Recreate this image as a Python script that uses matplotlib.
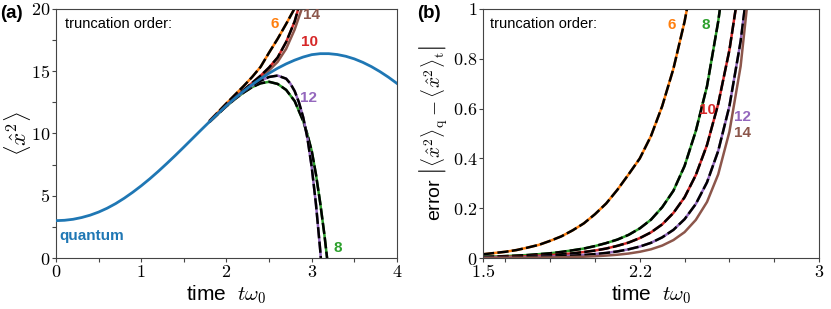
import matplotlib
matplotlib.use("Agg")
import matplotlib.pyplot as plt

plt.rcParams['font.family'] = ['Liberation Sans', 'DejaVu Sans']
plt.rcParams['mathtext.fontset'] = 'cm'

# panel (a): <x^2> vs time
t_q = [0.0, 0.1, 0.2, 0.3, 0.4, 0.5, 0.6, 0.7, 0.8, 0.9, 1.0,
       1.1, 1.2, 1.3, 1.4, 1.5, 1.6, 1.7, 1.8, 1.9, 2.0,
       2.1, 2.2, 2.3, 2.4, 2.5, 2.6, 2.7, 2.8, 2.9, 3.0,
       3.1, 3.2, 3.3, 3.4, 3.5, 3.6, 3.7, 3.8, 3.9, 4.0]
x2_q = [3.00, 3.03, 3.11, 3.25, 3.44, 3.69, 4.00, 4.37, 4.80, 5.28, 5.80,
        6.36, 6.96, 7.59, 8.24, 8.91, 9.59, 10.27, 10.94, 11.60, 12.24,
        12.84, 13.40, 13.92, 14.40, 14.84, 15.24, 15.59, 15.89, 16.14, 16.33,
        16.41, 16.41, 16.34, 16.20, 15.99, 15.71, 15.37, 14.97, 14.52, 14.02]

# truncated expansions (orders 6..14)
t6a = [1.8, 1.9, 2.0, 2.1, 2.2, 2.3, 2.4, 2.5, 2.6, 2.7, 2.8, 2.85]
x2_6 = [11.01, 11.71, 12.42, 13.11, 13.80, 14.53, 15.35, 16.50, 17.60, 18.80, 20.05, 20.7]
t10a = [1.8, 1.9, 2.0, 2.1, 2.2, 2.3, 2.4, 2.5, 2.6, 2.7, 2.8, 2.85, 2.9]
x2_10 = [10.95, 11.62, 12.27, 12.89, 13.48, 14.06, 14.64, 15.30, 16.10, 17.35, 19.00, 20.20, 21.6]
t14a = [1.8, 1.9, 2.0, 2.1, 2.2, 2.3, 2.4, 2.5, 2.6, 2.7, 2.8, 2.9, 2.95]
x2_14 = [10.94, 11.60, 12.25, 12.85, 13.42, 13.97, 14.50, 15.07, 15.75, 16.80, 18.35, 20.35, 21.6]
t12a = [1.8, 1.9, 2.0, 2.1, 2.2, 2.3, 2.4, 2.5, 2.6, 2.7, 2.75, 2.8, 2.85,
        2.9, 2.95, 3.0, 3.05, 3.1, 3.12]
x2_12 = [10.93, 11.59, 12.22, 12.81, 13.35, 13.84, 14.24, 14.54, 14.65, 14.40, 14.00, 13.40, 12.50,
         11.30, 9.60, 7.30, 4.30, 0.60, -1.2]
t8a = [1.8, 1.9, 2.0, 2.1, 2.2, 2.3, 2.4, 2.5, 2.6, 2.7, 2.8, 2.9,
       2.95, 3.0, 3.05, 3.1, 3.15, 3.2]
x2_8 = [10.92, 11.57, 12.19, 12.77, 13.28, 13.72, 14.03, 14.15, 13.98, 13.50, 12.60, 11.00,
        9.90, 8.60, 6.70, 4.40, 1.80, -1.2]

# panel (b): error |<x^2>_q - <x^2>_t|
t_b = [1.5, 1.55, 1.6, 1.65, 1.7, 1.75, 1.8, 1.85, 1.9, 1.95, 2.0, 2.05, 2.1,
       2.15, 2.2, 2.25, 2.3, 2.35, 2.4, 2.45, 2.5, 2.55, 2.6, 2.65, 2.7]
err6 = [0.015, 0.020, 0.025, 0.032, 0.042, 0.053, 0.069, 0.087, 0.111, 0.139, 0.176, 0.219, 0.274,
        0.336, 0.40, 0.49, 0.61, 0.76, 0.95, 1.19]
err8 = [0.0049, 0.006, 0.0077, 0.0098, 0.012, 0.0155, 0.019, 0.0245, 0.031, 0.038, 0.048, 0.060, 0.074,
        0.093, 0.119, 0.154, 0.204, 0.27, 0.37, 0.51, 0.69, 0.95, 1.28]
err10 = [0.0027, 0.0035, 0.0044, 0.0056, 0.0072, 0.0091, 0.0116, 0.0147, 0.0187, 0.024, 0.030, 0.038, 0.049,
         0.062, 0.080, 0.103, 0.135, 0.181, 0.244, 0.333, 0.454, 0.619, 0.835, 1.13]
err12 = [0.0012, 0.0015, 0.002, 0.0026, 0.0033, 0.0043, 0.0056, 0.0072, 0.0094, 0.0122, 0.0158, 0.0204, 0.0265,
         0.035, 0.046, 0.061, 0.083, 0.113, 0.156, 0.217, 0.304, 0.43, 0.61, 0.87, 1.23]
err14 = [0.0004, 0.0005, 0.0007, 0.0009, 0.0012, 0.0016, 0.0021, 0.0029, 0.0039, 0.0052, 0.0071, 0.0097, 0.0132,
         0.018, 0.025, 0.035, 0.050, 0.072, 0.104, 0.153, 0.225, 0.336, 0.507, 0.77, 1.19]

C = {'q': '#1f77b4', 6: '#ff7f0e', 8: '#2ca02c', 10: '#d62728', 12: '#9467bd', 14: '#8c564b'}
LW = 1.8
DASH = (4.5, 1.3)
SPINE = '#444444'


def dashed(ax, x, y, c):
    ax.plot(x, y, color=c, lw=LW, solid_capstyle='butt')
    ax.plot(x, y, color='k', lw=LW, dashes=DASH)


def style(ax):
    for s in ax.spines.values():
        s.set_color(SPINE)
        s.set_linewidth(0.8)
    ax.tick_params(which='both', direction='out', length=3, width=0.8, color=SPINE,
                   labelsize=13, pad=1)


fig = plt.figure(figsize=(8.31, 3.09), dpi=100)
ax1 = fig.add_axes([0.0674, 0.165, 0.4103, 0.806])
ax2 = fig.add_axes([0.5812, 0.165, 0.4044, 0.806])

# ---- (a)
dashed(ax1, t8a, x2_8, C[8])
dashed(ax1, t12a, x2_12, C[12])
dashed(ax1, t6a, x2_6, C[6])
ax1.plot(t14a, x2_14, color=C[14], lw=LW)
dashed(ax1, t10a, x2_10, C[10])
ax1.plot(t_q, x2_q, color=C['q'], lw=LW + 0.2, zorder=5)

ax1.set_xlim(0, 4)
ax1.set_ylim(0, 20)
ax1.set_xticks([0, 1, 2, 3, 4])
ax1.set_xticklabels(['$0$', '$1$', '$2$', '$3$', '$4$'])
ax1.set_xticks([0.5, 1.5, 2.5, 3.5], minor=True)
ax1.set_yticks([0, 5, 10, 15, 20])
ax1.set_yticklabels(['$0$', '$5$', '$10$', '$15$', '$20$'])
ax1.set_yticks([2.5, 7.5, 12.5, 17.5], minor=True)
style(ax1)
ax1.set_xlabel(r'time  $t\omega_0$', fontsize=15, labelpad=2)
ax1.set_ylabel(r'$\langle \hat{x}^2 \rangle$', fontsize=16.5)
ax1.yaxis.set_label_coords(-0.068, 0.5)

ax1.text(0.027, 0.94, 'truncation order:', transform=ax1.transAxes, fontsize=10.5, va='center')
ax1.text(0.01, 0.09, 'quantum', transform=ax1.transAxes, fontsize=11, weight='bold',
         color=C['q'], va='center')
ax1.text(2.57, 18.8, '6', color=C[6], fontsize=11, weight='bold', ha='center', va='center')
ax1.text(3.0, 19.5, '14', color=C[14], fontsize=11, weight='bold', ha='center', va='center')
ax1.text(2.97, 17.35, '10', color=C[10], fontsize=11, weight='bold', ha='center', va='center')
ax1.text(2.96, 12.85, '12', color=C[12], fontsize=11, weight='bold', ha='center', va='center')
ax1.text(3.3, 0.8, '8', color=C[8], fontsize=11, weight='bold', ha='center', va='center')

# ---- (b)
dashed(ax2, t_b[:len(err6)], err6, C[6])
dashed(ax2, t_b[:len(err8)], err8, C[8])
dashed(ax2, t_b[:len(err10)], err10, C[10])
dashed(ax2, t_b, err12, C[12])
ax2.plot(t_b, err14, color=C[14], lw=LW)

ax2.set_xlim(1.5, 3)
ax2.set_ylim(0, 1)
ax2.set_xticks([1.5, 1.6, 1.8, 2.0, 2.2, 2.4, 2.6, 2.8, 3.0])
ax2.set_xticklabels(['$1.5$', '', '', '', '$2.2$', '', '', '', '$3$'])
ax2.set_yticks([0, 0.2, 0.4, 0.6, 0.8, 1])
ax2.set_yticklabels(['$0$', '$0.2$', '$0.4$', '$0.6$', '$0.8$', '$1$'])
style(ax2)
ax2.set_xlabel(r'time  $t\omega_0$', fontsize=15, labelpad=2)
ax2.set_ylabel(r'error $\left|\langle \hat{x}^2 \rangle_\mathrm{q} - \langle \hat{x}^2 \rangle_\mathrm{t}\right|$',
               fontsize=14, labelpad=2)

ax2.text(0.02, 0.94, 'truncation order:', transform=ax2.transAxes, fontsize=10.5, va='center')
ax2.text(2.344, 0.935, '6', color=C[6], fontsize=11, weight='bold', ha='center', va='center')
ax2.text(2.496, 0.935, '8', color=C[8], fontsize=11, weight='bold', ha='center', va='center')
ax2.text(2.50, 0.594, '10', color=C[10], fontsize=11, weight='bold', ha='center', va='center')
ax2.text(2.66, 0.566, '12', color=C[12], fontsize=11, weight='bold', ha='center', va='center')
ax2.text(2.66, 0.502, '14', color=C[14], fontsize=11, weight='bold', ha='center', va='center')

fig.text(0.0, 0.955, '(a)', fontsize=13.5, weight='bold', va='center')
fig.text(0.502, 0.955, '(b)', fontsize=13.5, weight='bold', va='center')

fig.savefig('out.png', dpi=100)
